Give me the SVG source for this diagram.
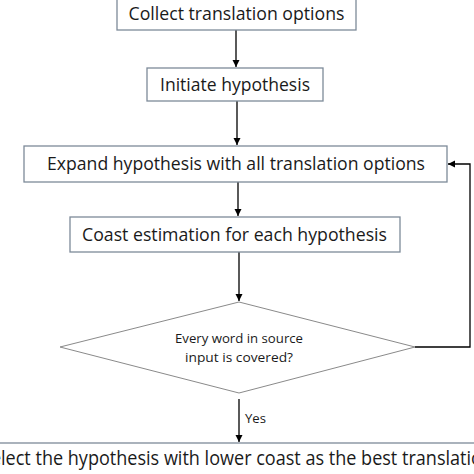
<svg xmlns="http://www.w3.org/2000/svg" width="474" height="474" viewBox="0 0 474 474">
<defs>
<marker id="arr" markerWidth="8" markerHeight="8" refX="7" refY="4" orient="auto" markerUnits="userSpaceOnUse">
<path d="M0,0.5 L7,4 L0,7.5 Z" fill="#000"/>
</marker>
<style>
.box{fill:#fff;stroke:#7d8a99;stroke-width:1.3}
.t{font-family:"Open Sans","Liberation Sans",sans-serif;font-size:18.5px;fill:#1a1a1a;text-anchor:middle}
.s{font-family:"Open Sans","Liberation Sans",sans-serif;font-size:12.5px;fill:#1a1a1a;text-anchor:middle}
.c{fill:none;stroke:#000;stroke-width:1.3}
</style>
</defs>
<rect width="474" height="474" fill="#fff"/>
<g id="connectors">
<line class="c" x1="236" y1="30" x2="236" y2="67" marker-end="url(#arr)"/>
<line class="c" x1="237" y1="101" x2="237" y2="145" marker-end="url(#arr)"/>
<line class="c" x1="238" y1="182" x2="238" y2="216" marker-end="url(#arr)"/>
<line class="c" x1="239" y1="252" x2="239" y2="301" marker-end="url(#arr)"/>
<line class="c" x1="239" y1="399" x2="239" y2="442" marker-end="url(#arr)"/>
<polyline class="c" points="415,347 470,347 470,164 448,164" marker-end="url(#arr)"/>
<text class="s" x="245" y="423" style="text-anchor:start" textLength="21" lengthAdjust="spacingAndGlyphs">Yes</text>
</g>
<g id="n1">
<rect class="box" x="117" y="-2" width="239" height="32"/>
<text class="t" x="236.5" y="20" textLength="216" lengthAdjust="spacingAndGlyphs">Collect translation options</text>
</g>
<g id="n2">
<rect class="box" x="147" y="68" width="176" height="33"/>
<text class="t" x="235" y="91" textLength="150" lengthAdjust="spacingAndGlyphs">Initiate hypothesis</text>
</g>
<g id="n3">
<rect class="box" x="24" y="146" width="423" height="36"/>
<text class="t" x="236" y="170" textLength="378" lengthAdjust="spacingAndGlyphs">Expand hypothesis with all translation options</text>
</g>
<g id="n4">
<rect class="box" x="70" y="217" width="330" height="35"/>
<text class="t" x="234.5" y="241" textLength="305" lengthAdjust="spacingAndGlyphs">Coast estimation for each hypothesis</text>
</g>
<g id="n5">
<polygon points="239,302 415,347 239,393 60,347" fill="#fff" stroke="#8a8a8a" stroke-width="1"/>
<text class="s" x="239" y="343" textLength="128" lengthAdjust="spacingAndGlyphs">Every word in source</text>
<text class="s" x="239" y="362" textLength="108" lengthAdjust="spacingAndGlyphs">input is covered?</text>
</g>
<g id="n6">
<rect class="box" x="-10" y="443" width="494" height="40"/>
<text class="t" x="237" y="465" font-size="20" style="font-size:20px" textLength="512" lengthAdjust="spacingAndGlyphs">Select the hypothesis with lower coast as the best translation</text>
</g>
</svg>
